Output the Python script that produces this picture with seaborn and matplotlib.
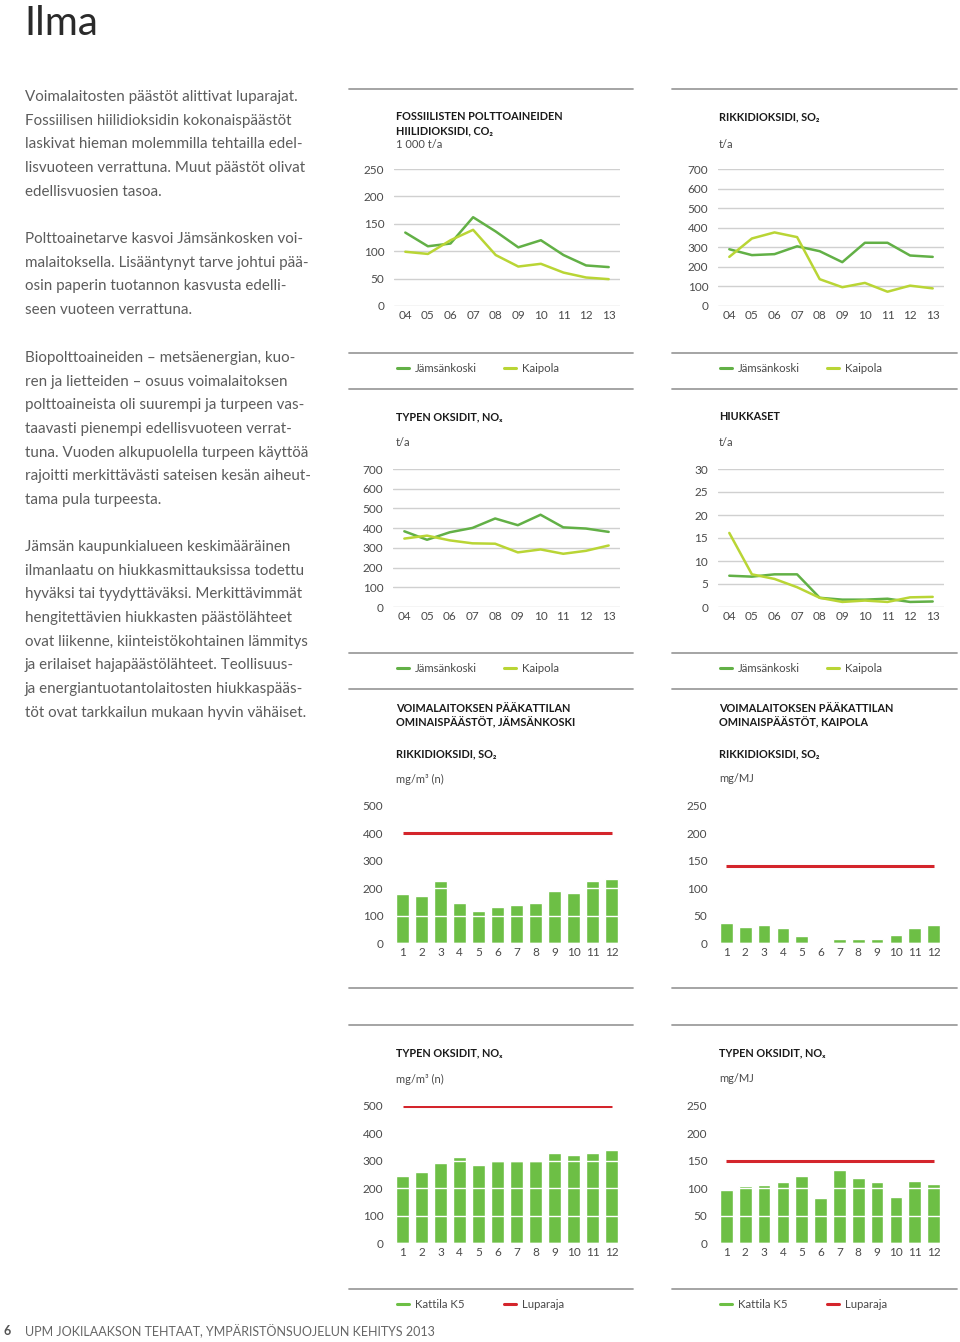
import numpy as np
import pandas as pd
import matplotlib
matplotlib.use("Agg")
import matplotlib.pyplot as plt
import seaborn as sns

# --- data ---
years = ["04", "05", "06", "07", "08", "09", "10", "11", "12", "13"]
months = ["1", "2", "3", "4", "5", "6", "7", "8", "9", "10", "11", "12"]

co2_jamsankoski = [134, 109, 114, 162, 136, 107, 120, 93, 74, 71]
co2_kaipola = [99, 95, 120, 139, 93, 72, 77, 61, 52, 49]

so2_jamsankoski = [290, 260, 265, 305, 280, 224, 323, 323, 258, 251]
so2_kaipola = [251, 345, 376, 352, 137, 96, 118, 73, 104, 90]

nox_jamsankoski = [384, 341, 379, 401, 449, 415, 468, 404, 398, 381]
nox_kaipola = [347, 362, 338, 323, 321, 277, 292, 270, 285, 312]

hiukkaset_jamsankoski = [6.8, 6.6, 7.1, 7.1, 2.0, 1.6, 1.6, 1.8, 1.1, 1.2]
hiukkaset_kaipola = [16.1, 7.1, 6.1, 4.3, 2.0, 1.1, 1.4, 1.1, 2.1, 2.2]

k5_so2_jamsankoski = [178, 173, 225, 147, 118, 130, 137, 147, 189, 184, 225, 232]
k5_so2_kaipola = [36.5, 29, 33, 27, 13, 0, 7, 7, 7, 15, 27, 33]
k5_nox_jamsankoski = [244, 260, 292, 315, 284, 298, 299, 298, 329, 320, 330, 338]
k5_nox_kaipola = [97, 104, 106, 112, 122, 82, 133, 119, 111, 84, 113, 108]

luparaja_so2_jamsankoski = 400
luparaja_so2_kaipola = 140
luparaja_nox_jamsankoski = 500
luparaja_nox_kaipola = 150

# --- style ---
W, H = 960, 1342
DARK = "#62b046"
LIGHT = "#b9d535"
BAR = "#6dbf45"
RED = "#d4252c"
GREY_TXT = "#4a4a4a"
SEP = "#9d9d9d"

sns.set_theme(style="white")
plt.rcParams["font.family"] = ["Lato", "DejaVu Sans"]

fig = plt.figure(figsize=(W / 100, H / 100), dpi=100)


def fx(x):
    return x / W


def fy(y):
    return 1 - y / H


def add_ax(x0, y0, x1, y1):
    # pixel box, y from top
    return fig.add_axes([fx(x0), fy(y1), (x1 - x0) / W, (y1 - y0) / H])


def txt(x, y, s, size=8.5, weight="normal", color=GREY_TXT, ha="left", va="center"):
    fig.text(fx(x), fy(y), s, fontsize=size, fontweight=weight, color=color,
             ha=ha, va=va, family=["Lato", "DejaVu Sans"])


def sep(x0, x1, y):
    fig.add_artist(plt.Line2D([fx(x0), fx(x1)], [fy(y), fy(y)], color=SEP, lw=1.3))


def legend_item(x, y, color, label):
    fig.add_artist(plt.Line2D([fx(x), fx(x + 12)], [fy(y), fy(y)], color=color, lw=2.2))
    txt(x + 18, y, label, size=8.2)


def style_axis(ax, ymax, step, gridcolor, grid_on_top=False):
    ax.set_ylim(0, ymax)
    ax.set_yticks(np.arange(0, ymax + 1, step))
    ax.grid(axis="y", color=gridcolor, lw=1.0)
    ax.grid(axis="x", visible=False)
    ax.set_axisbelow(not grid_on_top)
    for s in ax.spines.values():
        s.set_visible(False)
    ax.tick_params(axis="y", length=0, pad=7, labelsize=8.5, labelcolor=GREY_TXT)
    ax.tick_params(axis="x", length=0, pad=3, labelsize=8.5, labelcolor=GREY_TXT)
    ax.set_xlabel("")
    ax.set_ylabel("")
    ax.patch.set_alpha(0)


def line_chart(box, jams, kaip, ymax, step):
    ax = add_ax(*box)
    df = pd.DataFrame({
        "vuosi": years * 2,
        "arvo": jams + kaip,
        "tehdas": ["Jämsänkoski"] * len(years) + ["Kaipola"] * len(years),
    })
    sns.lineplot(data=df, x="vuosi", y="arvo", hue="tehdas",
                 palette={"Jämsänkoski": DARK, "Kaipola": LIGHT},
                 linewidth=1.8, legend=False, ax=ax)
    ax.set_xlim(-0.5, len(years) - 0.5)
    style_axis(ax, ymax, step, "#d0d0d0")
    return ax


def bar_chart(box, values, limit, ymax, step):
    ax = add_ax(*box)
    sns.barplot(x=months, y=values, color=BAR, width=0.68, saturation=1, ax=ax)
    ax.hlines(limit, 0, len(months) - 1, color=RED, lw=2.2, zorder=5)
    ax.set_xlim(-0.5, len(months) - 0.5)
    style_axis(ax, ymax, step, "white", grid_on_top=True)
    return ax


# --- left column text ---
txt(24, 35, "Ilma", size=29, color="#2a2a2a", va="baseline")

paragraphs = [
    (97, ["Voimalaitosten päästöt alittivat luparajat.",
          "Fossiilisen hiilidioksidin kokonaispäästöt",
          "laskivat hieman molemmilla tehtailla edel-",
          "lisvuoteen verrattuna. Muut päästöt olivat",
          "edellisvuosien tasoa."]),
    (239, ["Polttoainetarve kasvoi Jämsänkosken voi-",
           "malaitoksella. Lisääntynyt tarve johtui pää-",
           "osin paperin tuotannon kasvusta edelli-",
           "seen vuoteen verrattuna."]),
    (358, ["Biopolttoaineiden – metsäenergian, kuo-",
           "ren ja lietteiden – osuus voimalaitoksen",
           "polttoaineista oli suurempi ja turpeen vas-",
           "taavasti pienempi edellisvuoteen verrat-",
           "tuna. Vuoden alkupuolella turpeen käyttöä",
           "rajoitti merkittävästi sateisen kesän aiheut-",
           "tama pula turpeesta."]),
    (547, ["Jämsän kaupunkialueen keskimääräinen",
           "ilmanlaatu on hiukkasmittauksissa todettu",
           "hyväksi tai tyydyttäväksi. Merkittävimmät",
           "hengitettävien hiukkasten päästölähteet",
           "ovat liikenne, kiinteistökohtainen lämmitys",
           "ja erilaiset hajapäästölähteet. Teollisuus-",
           "ja energiantuotantolaitosten hiukkaspääs-",
           "töt ovat tarkkailun mukaan hyvin vähäiset."]),
]
for y0, lines in paragraphs:
    for i, line in enumerate(lines):
        txt(25, y0 + i * 23.65, line, size=10.9, color="#5c5c5c")

# --- separators ---
for y in [89, 353, 389, 653, 689, 988, 1025, 1289]:
    sep(349, 633, y)
    sep(672, 957, y)

# --- legends ---
for y in [368, 668]:
    for x in [397, 720]:
        legend_item(x, y, DARK, "Jämsänkoski")
        legend_item(x + 107, y, LIGHT, "Kaipola")
for x in [397, 720]:
    legend_item(x, 1304, BAR, "Kattila K5")
    legend_item(x + 107, 1304, RED, "Luparaja")

# --- titles ---
TB = dict(size=7.8, weight="bold", color="#1a1a1a")
txt(396, 117, "FOSSIILISTEN POLTTOAINEIDEN", **TB)
txt(396, 131, "HIILIDIOKSIDI, CO₂", **TB)
txt(396, 144, "1 000 t/a", size=8)
txt(719, 117, "RIKKIDIOKSIDI, SO₂", **TB)
txt(719, 144, "t/a", size=8)

txt(396, 417, "TYPEN OKSIDIT, NOₓ", **TB)
txt(396, 443, "t/a", size=8)
txt(719, 417, "HIUKKASET", **TB)
txt(719, 443, "t/a", size=8)

txt(396, 709, "VOIMALAITOKSEN PÄÄKATTILAN", **TB)
txt(396, 723, "OMINAISPÄÄSTÖT, JÄMSÄNKOSKI", **TB)
txt(396, 754, "RIKKIDIOKSIDI, SO₂", **TB)
txt(396, 779, "mg/m³ (n)", size=8)
txt(719, 709, "VOIMALAITOKSEN PÄÄKATTILAN", **TB)
txt(719, 723, "OMINAISPÄÄSTÖT, KAIPOLA", **TB)
txt(719, 754, "RIKKIDIOKSIDI, SO₂", **TB)
txt(719, 779, "mg/MJ", size=8)

txt(396, 1053, "TYPEN OKSIDIT, NOₓ", **TB)
txt(396, 1079, "mg/m³ (n)", size=8)
txt(719, 1053, "TYPEN OKSIDIT, NOₓ", **TB)
txt(719, 1079, "mg/MJ", size=8)

# --- charts ---
line_chart((394, 169, 620, 306), co2_jamsankoski, co2_kaipola, 250, 50)
line_chart((718, 169, 944, 306), so2_jamsankoski, so2_kaipola, 700, 100)
line_chart((393, 469, 620, 607), nox_jamsankoski, nox_kaipola, 700, 100)
line_chart((718, 469, 944, 607), hiukkaset_jamsankoski, hiukkaset_kaipola, 30, 5)

bar_chart((393, 806, 621, 943), k5_so2_jamsankoski, luparaja_so2_jamsankoski, 500, 100)
bar_chart((717, 806, 943, 943), k5_so2_kaipola, luparaja_so2_kaipola, 250, 50)
bar_chart((393, 1106, 621, 1243), k5_nox_jamsankoski, luparaja_nox_jamsankoski, 500, 100)
bar_chart((717, 1106, 943, 1243), k5_nox_kaipola, luparaja_nox_kaipola, 250, 50)

# --- footer ---
txt(4, 1331, "6", size=9, weight="bold", color="#555555")
txt(25, 1331, "UPM JOKILAAKSON TEHTAAT, YMPÄRISTÖNSUOJELUN KEHITYS 2013", size=9, color="#666666")

fig.savefig("out.png", dpi=100)
